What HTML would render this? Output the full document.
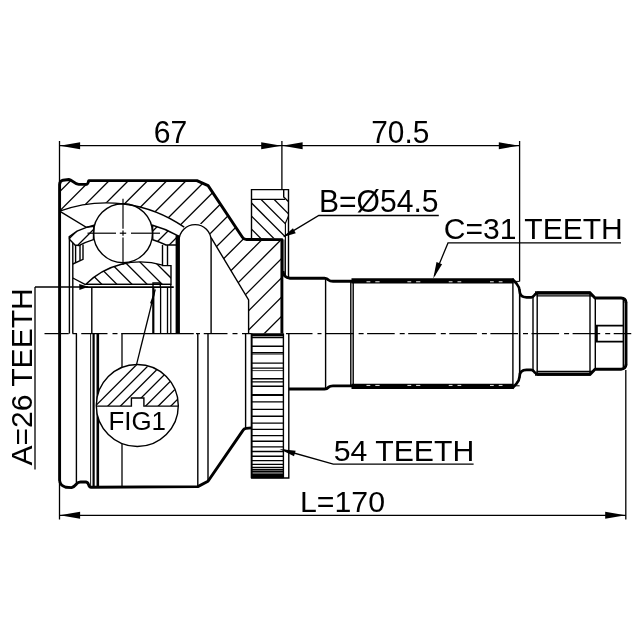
<!DOCTYPE html>
<html><head><meta charset="utf-8"><title>CV joint drawing</title>
<style>
html,body{margin:0;padding:0;background:#fff;}
body{width:640px;height:640px;overflow:hidden;}
svg{display:block;will-change:transform;}
svg .g{fill:none;stroke:#000;stroke-linecap:butt;}
svg text{font-family:"Liberation Sans",Arial,Helvetica,sans-serif;fill:#000;}
</style></head><body>
<svg width="640" height="640" viewBox="0 0 640 640">
<rect x="0" y="0" width="640" height="640" fill="#fff"/>
<g class="g">
<defs><clipPath id="cH"><path d="M59.6,211.14 L59.6,184.5 Q59.8,181 63,180.2 L69,179.5 C72,179.6 74.5,184.2 78.75,184.4 L86.6,184.2 Q88,184 88.6,181 L89,180.6 L196.9,180.6 L208.1,185.6 L242.4,237.2 Q243.8,239.4 246.5,239.55 L281.9,239.6 L281.9,333.6 L248.6,333.6 L248.6,300 L211.1,237.6 L211.1,240.6 A16.0,16.0 0 0 0 184.2,227.2 A136.66,136.66 0 0 0 59.6,211.14 Z"/></clipPath><clipPath id="cI"><path d="M85.6,284.4 A77.8,77.8 0 0 1 162.5,265.15 L162.5,265.6 L171.0,265.6 L171.0,284.4 Z"/></clipPath><clipPath id="cC"><path d="M69.4,236.6 L77,231.15 A112.3,112.3 0 0 1 93.9,225.14 L93.4,239.65 A98.5,98.5 0 0 0 78.75,245.60 L75,245 L70.6,240.6 L69.4,239 Z M152.6,225.27 A112.3,112.3 0 0 1 177.7,235.52 L177.7,245 L166,245 A98.5,98.5 0 0 0 152.8,239.72 Z"/></clipPath><clipPath id="cR"><path d="M251.5,199.4 L285,199.4 L288.4,201.5 L288.4,216 L285.4,223.2 L285.4,238.5 L251.5,238.5 Z"/></clipPath><clipPath id="cF"><path d="M96.30000000000001,406.1 A41.0,41.0 0 0 1 178.3,406.1 L143.9,406.1 L143.9,398 L131.4,398 L131.4,406.1 Z"/></clipPath></defs>
<g clip-path="url(#cH)">
<line x1="82.05" y1="150.00" x2="-117.95" y2="350.00" stroke-width="1.3" />
<line x1="101.30" y1="150.00" x2="-98.70" y2="350.00" stroke-width="1.3" />
<line x1="120.55" y1="150.00" x2="-79.45" y2="350.00" stroke-width="1.3" />
<line x1="139.80" y1="150.00" x2="-60.20" y2="350.00" stroke-width="1.3" />
<line x1="159.05" y1="150.00" x2="-40.95" y2="350.00" stroke-width="1.3" />
<line x1="178.30" y1="150.00" x2="-21.70" y2="350.00" stroke-width="1.3" />
<line x1="197.55" y1="150.00" x2="-2.45" y2="350.00" stroke-width="1.3" />
<line x1="216.80" y1="150.00" x2="16.80" y2="350.00" stroke-width="1.3" />
<line x1="236.05" y1="150.00" x2="36.05" y2="350.00" stroke-width="1.3" />
<line x1="255.30" y1="150.00" x2="55.30" y2="350.00" stroke-width="1.3" />
<line x1="274.55" y1="150.00" x2="74.55" y2="350.00" stroke-width="1.3" />
<line x1="293.80" y1="150.00" x2="93.80" y2="350.00" stroke-width="1.3" />
<line x1="313.05" y1="150.00" x2="113.05" y2="350.00" stroke-width="1.3" />
<line x1="332.30" y1="150.00" x2="132.30" y2="350.00" stroke-width="1.3" />
<line x1="351.55" y1="150.00" x2="151.55" y2="350.00" stroke-width="1.3" />
<line x1="370.80" y1="150.00" x2="170.80" y2="350.00" stroke-width="1.3" />
<line x1="390.05" y1="150.00" x2="190.05" y2="350.00" stroke-width="1.3" />
<line x1="409.30" y1="150.00" x2="209.30" y2="350.00" stroke-width="1.3" />
<line x1="428.55" y1="150.00" x2="228.55" y2="350.00" stroke-width="1.3" />
<line x1="447.80" y1="150.00" x2="247.80" y2="350.00" stroke-width="1.3" />
<line x1="467.05" y1="150.00" x2="267.05" y2="350.00" stroke-width="1.3" />
<line x1="486.30" y1="150.00" x2="286.30" y2="350.00" stroke-width="1.3" />
</g>
<g clip-path="url(#cC)">
<line x1="92.60" y1="200.00" x2="32.60" y2="260.00" stroke-width="1.3" />
<line x1="107.80" y1="200.00" x2="47.80" y2="260.00" stroke-width="1.3" />
<line x1="123.00" y1="200.00" x2="63.00" y2="260.00" stroke-width="1.3" />
<line x1="138.20" y1="200.00" x2="78.20" y2="260.00" stroke-width="1.3" />
<line x1="153.40" y1="200.00" x2="93.40" y2="260.00" stroke-width="1.3" />
<line x1="168.60" y1="200.00" x2="108.60" y2="260.00" stroke-width="1.3" />
<line x1="183.80" y1="200.00" x2="123.80" y2="260.00" stroke-width="1.3" />
<line x1="199.00" y1="200.00" x2="139.00" y2="260.00" stroke-width="1.3" />
<line x1="214.20" y1="200.00" x2="154.20" y2="260.00" stroke-width="1.3" />
<line x1="229.40" y1="200.00" x2="169.40" y2="260.00" stroke-width="1.3" />
<line x1="244.60" y1="200.00" x2="184.60" y2="260.00" stroke-width="1.3" />
</g>
<g clip-path="url(#cI)">
<line x1="52.40" y1="250.00" x2="102.40" y2="300.00" stroke-width="1.3" />
<line x1="67.50" y1="250.00" x2="117.50" y2="300.00" stroke-width="1.3" />
<line x1="82.60" y1="250.00" x2="132.60" y2="300.00" stroke-width="1.3" />
<line x1="97.70" y1="250.00" x2="147.70" y2="300.00" stroke-width="1.3" />
<line x1="112.80" y1="250.00" x2="162.80" y2="300.00" stroke-width="1.3" />
<line x1="127.90" y1="250.00" x2="177.90" y2="300.00" stroke-width="1.3" />
<line x1="143.00" y1="250.00" x2="193.00" y2="300.00" stroke-width="1.3" />
<line x1="158.10" y1="250.00" x2="208.10" y2="300.00" stroke-width="1.3" />
<line x1="173.20" y1="250.00" x2="223.20" y2="300.00" stroke-width="1.3" />
<line x1="188.30" y1="250.00" x2="238.30" y2="300.00" stroke-width="1.3" />
</g>
<g clip-path="url(#cR)">
<line x1="189.20" y1="180.00" x2="259.20" y2="250.00" stroke-width="1.3" />
<line x1="202.30" y1="180.00" x2="272.30" y2="250.00" stroke-width="1.3" />
<line x1="215.40" y1="180.00" x2="285.40" y2="250.00" stroke-width="1.3" />
<line x1="228.50" y1="180.00" x2="298.50" y2="250.00" stroke-width="1.3" />
<line x1="241.60" y1="180.00" x2="311.60" y2="250.00" stroke-width="1.3" />
<line x1="254.70" y1="180.00" x2="324.70" y2="250.00" stroke-width="1.3" />
<line x1="267.80" y1="180.00" x2="337.80" y2="250.00" stroke-width="1.3" />
<line x1="280.90" y1="180.00" x2="350.90" y2="250.00" stroke-width="1.3" />
<line x1="294.00" y1="180.00" x2="364.00" y2="250.00" stroke-width="1.3" />
</g>
<path d="M59.6,333.6 L59.6,184.5 Q59.8,181 63,180.2 L69,179.5 C72,179.6 74.5,184.2 78.75,184.4 L86.6,184.2 Q88,184 88.6,181 L89,180.6 L196.9,180.6 L208.1,185.6 L242.4,237.2 Q243.8,239.4 246.5,239.55 L281.9,239.6 L281.9,333.6" stroke-width="2.9" stroke-linejoin="round"/>
<path d="M59.6,211.14 A136.66,136.66 0 0 1 184.2,227.2" stroke-width="1.4" />
<path d="M59.6,211.14 L86.3,227.3 L94,226.3" stroke-width="1.4" />
<path d="M179.1,333.6 L179.1,240.6 A16.0,16.0 0 0 1 211.1,240.6 L211.1,333.6" stroke-width="1.4" />
<path d="M211.1,237.6 L248.6,300 L248.6,333.6" stroke-width="1.4" />
<circle cx="123.0" cy="233.2" r="29.5" stroke-width="1.4"/>
<line x1="87.50" y1="233.20" x2="116.00" y2="233.20" stroke-width="1.2" />
<line x1="119.80" y1="233.20" x2="126.20" y2="233.20" stroke-width="1.2" />
<line x1="131.00" y1="233.20" x2="160.00" y2="233.20" stroke-width="1.2" />
<line x1="123.00" y1="198.70" x2="123.00" y2="228.70" stroke-width="1.2" />
<line x1="123.00" y1="230.60" x2="123.00" y2="235.80" stroke-width="1.2" />
<line x1="123.00" y1="237.50" x2="123.00" y2="265.00" stroke-width="1.2" />
<path d="M69.4,236.6 L77,231.15 A112.3,112.3 0 0 1 93.9,225.14 L93.4,239.65 A98.5,98.5 0 0 0 78.75,245.60 L75,245 L70.6,240.6 L69.4,239 Z" stroke-width="1.4" />
<path d="M152.6,225.27 A112.3,112.3 0 0 1 177.7,235.52 L177.7,245 L166,245 A98.5,98.5 0 0 0 152.8,239.72 Z" stroke-width="1.4" />
<line x1="69.40" y1="236.30" x2="69.40" y2="333.60" stroke-width="1.4" />
<line x1="72.80" y1="243.00" x2="72.80" y2="333.60" stroke-width="1.4" />
<path d="M72.8,278 L85,284.4" stroke-width="1.4" />
<path d="M72.8,264 L83,259.4 L83,244.4" stroke-width="1.4" />
<line x1="80.00" y1="245.00" x2="80.00" y2="260.50" stroke-width="1.4" />
<line x1="75.60" y1="245.00" x2="75.60" y2="262.50" stroke-width="1.4" />
<line x1="91.80" y1="287.00" x2="91.80" y2="333.60" stroke-width="1.4" />
<line x1="162.50" y1="245.00" x2="162.50" y2="265.60" stroke-width="1.4" />
<line x1="167.50" y1="245.00" x2="167.50" y2="265.60" stroke-width="1.4" />
<line x1="177.60" y1="235.20" x2="177.60" y2="333.60" stroke-width="4.0" />
<path d="M85.6,284.4 A77.8,77.8 0 0 1 162.5,265.15 L162.5,265.6 L171.0,265.6 L171.0,284.4 Z" stroke-width="1.4" />
<line x1="85.60" y1="284.40" x2="171.00" y2="284.40" stroke-width="1.4" />
<line x1="35.00" y1="287.00" x2="88.00" y2="287.00" stroke-width="1.3" />
<line x1="86.00" y1="287.10" x2="173.75" y2="287.10" stroke-width="1.8" />
<path d="M153,287 L153,283 L160.3,283 L160.3,287" stroke-width="1.4" />
<line x1="153.30" y1="287.00" x2="153.30" y2="333.60" stroke-width="2.2" />
<line x1="160.60" y1="287.00" x2="160.60" y2="333.60" stroke-width="1.3" />
<line x1="167.50" y1="287.00" x2="167.50" y2="333.60" stroke-width="1.3" />
<line x1="170.80" y1="284.40" x2="170.80" y2="333.60" stroke-width="1.3" />
<path d="M251.5,238.5 L251.5,189.6 L288.5,189.6 L288.5,277" stroke-width="1.4" />
<line x1="251.50" y1="199.40" x2="285.00" y2="199.40" stroke-width="1.4" />
<path d="M283.7,189.6 L283.7,197 L288.4,201.5" stroke-width="1.4" />
<path d="M288.5,216 L285.4,223.2 L285.4,275" stroke-width="1.1" />
<line x1="284.00" y1="239.60" x2="284.00" y2="275.00" stroke-width="0.9" />
<path d="M283,271 Q283.4,277.8 290,278.2 L324.5,278.2 Q327,278.3 328.5,280 Q330,281.3 333,281.3 L352.5,281.3" stroke-width="2.9" stroke-linejoin="round"/>
<path d="M288.9,389.00 L324.5,389.00 Q327,388.90 328.5,387.20 Q330,385.90 333,385.90 L352.5,385.90" stroke-width="2.9" />
<line x1="351.50" y1="280.90" x2="513.50" y2="280.90" stroke-width="5.3" />
<line x1="366.50" y1="281.75" x2="370.30" y2="281.75" stroke-width="1.1" stroke="#d8d8d8"/>
<line x1="375.30" y1="281.75" x2="379.60" y2="281.75" stroke-width="1.1" stroke="#d8d8d8"/>
<line x1="407.40" y1="281.75" x2="411.20" y2="281.75" stroke-width="1.1" stroke="#d8d8d8"/>
<line x1="416.10" y1="281.75" x2="420.30" y2="281.75" stroke-width="1.1" stroke="#d8d8d8"/>
<line x1="448.75" y1="281.75" x2="452.50" y2="281.75" stroke-width="1.1" stroke="#d8d8d8"/>
<line x1="457.50" y1="281.75" x2="461.25" y2="281.75" stroke-width="1.1" stroke="#d8d8d8"/>
<line x1="490.00" y1="281.75" x2="493.75" y2="281.75" stroke-width="1.1" stroke="#d8d8d8"/>
<line x1="498.75" y1="281.75" x2="502.50" y2="281.75" stroke-width="1.1" stroke="#d8d8d8"/>
<path d="M512.2,278.80 L516.5,283.50 Q519.4,287.00 519.6,291.00 Q519.8,297.30 526.5,297.30 L531.3,297.30 Q533,297.30 535,294.50 Q536.5,292.80 538.5,292.80" stroke-width="2.7" />
<path d="M535,292.80 L590,292.80 L595,298.00 L621,298.00 Q625.6,298.20 626,302.50" stroke-width="2.9" stroke-linejoin="round"/>
<path d="M537.3,293.00 L590.6,293.00" stroke-width="3.2" />
<line x1="536.60" y1="295.90" x2="592.60" y2="295.90" stroke-width="1.2" />
<line x1="351.50" y1="386.30" x2="513.50" y2="386.30" stroke-width="5.3" />
<line x1="366.50" y1="385.45" x2="370.30" y2="385.45" stroke-width="1.1" stroke="#d8d8d8"/>
<line x1="375.30" y1="385.45" x2="379.60" y2="385.45" stroke-width="1.1" stroke="#d8d8d8"/>
<line x1="407.40" y1="385.45" x2="411.20" y2="385.45" stroke-width="1.1" stroke="#d8d8d8"/>
<line x1="416.10" y1="385.45" x2="420.30" y2="385.45" stroke-width="1.1" stroke="#d8d8d8"/>
<line x1="448.75" y1="385.45" x2="452.50" y2="385.45" stroke-width="1.1" stroke="#d8d8d8"/>
<line x1="457.50" y1="385.45" x2="461.25" y2="385.45" stroke-width="1.1" stroke="#d8d8d8"/>
<line x1="490.00" y1="385.45" x2="493.75" y2="385.45" stroke-width="1.1" stroke="#d8d8d8"/>
<line x1="498.75" y1="385.45" x2="502.50" y2="385.45" stroke-width="1.1" stroke="#d8d8d8"/>
<path d="M512.2,388.40 L516.5,383.70 Q519.4,380.20 519.6,376.20 Q519.8,369.90 526.5,369.90 L531.3,369.90 Q533,369.90 535,372.70 Q536.5,374.40 538.5,374.40" stroke-width="2.7" />
<path d="M535,374.40 L590,374.40 L595,369.20 L621,369.20 Q625.6,369.00 626,364.70" stroke-width="2.9" stroke-linejoin="round"/>
<path d="M537.3,374.20 L590.6,374.20" stroke-width="3.2" />
<line x1="536.60" y1="371.30" x2="592.60" y2="371.30" stroke-width="1.2" />
<line x1="626.00" y1="302.00" x2="626.00" y2="365.20" stroke-width="2.9" />
<line x1="325.60" y1="278.30" x2="325.60" y2="388.90" stroke-width="1.4" />
<line x1="350.80" y1="281.30" x2="350.80" y2="385.90" stroke-width="1.4" />
<line x1="353.20" y1="281.30" x2="353.20" y2="385.90" stroke-width="1.4" />
<line x1="512.90" y1="281.00" x2="512.90" y2="386.20" stroke-width="1.4" />
<line x1="519.70" y1="289.00" x2="519.70" y2="378.20" stroke-width="1.6" />
<line x1="533.00" y1="295.50" x2="533.00" y2="371.70" stroke-width="1.4" />
<line x1="537.20" y1="293.00" x2="537.20" y2="374.20" stroke-width="1.4" />
<line x1="590.00" y1="293.00" x2="590.00" y2="374.20" stroke-width="1.4" />
<line x1="595.30" y1="298.00" x2="595.30" y2="369.20" stroke-width="1.4" />
<line x1="623.30" y1="298.50" x2="623.30" y2="368.70" stroke-width="1.4" />
<path d="M623.3,325.6 L596.9,325.6 L596.9,341.6 L623.3,341.6" stroke-width="1.8" />
<path d="M59.6,333.6 L59.6,480.5 Q60,485.5 66,487.3 L71.5,487.6 Q74,487 76.5,484 Q78,482 80.5,482 L86,482 Q88,482.3 88.7,485 Q89.3,487.3 91,487.3 L197.8,486.6 L208,481.3 L242.8,430.6 Q244,428.6 246,428.4 L251.5,427.9" stroke-width="2.9" stroke-linejoin="round"/>
<line x1="76.40" y1="333.60" x2="76.40" y2="483.00" stroke-width="1.4" />
<line x1="90.60" y1="333.60" x2="90.60" y2="486.00" stroke-width="0.9" />
<line x1="93.60" y1="333.60" x2="93.60" y2="487.00" stroke-width="2.2" />
<line x1="97.80" y1="333.60" x2="97.80" y2="487.00" stroke-width="2.6" />
<line x1="122.00" y1="333.60" x2="122.00" y2="487.00" stroke-width="1.3" />
<line x1="197.80" y1="333.60" x2="197.80" y2="486.50" stroke-width="1.4" />
<line x1="208.00" y1="333.60" x2="208.00" y2="481.30" stroke-width="1.4" />
<line x1="245.60" y1="333.60" x2="245.60" y2="428.50" stroke-width="1.4" />
<path d="M251.6,333.6 L251.6,478.0 L288.8,478.0 L288.8,333.6" stroke-width="1.4" />
<line x1="251.60" y1="333.60" x2="251.60" y2="478.00" stroke-width="1.7" />
<line x1="283.40" y1="333.60" x2="283.40" y2="478.00" stroke-width="1.4" />
<line x1="251.60" y1="335.60" x2="283.50" y2="335.60" stroke-width="1.3" />
<line x1="251.60" y1="337.50" x2="283.50" y2="337.50" stroke-width="1.3" />
<line x1="251.60" y1="346.25" x2="283.50" y2="346.25" stroke-width="1.3" />
<line x1="251.60" y1="352.60" x2="283.50" y2="352.60" stroke-width="1.3" />
<line x1="251.60" y1="354.00" x2="283.50" y2="354.00" stroke-width="1.2" />
<line x1="251.60" y1="363.10" x2="283.50" y2="363.10" stroke-width="1.3" />
<line x1="251.60" y1="368.10" x2="283.50" y2="368.10" stroke-width="1.3" />
<line x1="251.60" y1="370.60" x2="283.50" y2="370.60" stroke-width="0.8" />
<line x1="251.60" y1="378.75" x2="283.50" y2="378.75" stroke-width="1.3" />
<line x1="251.60" y1="381.90" x2="283.50" y2="381.90" stroke-width="1.3" />
<line x1="251.60" y1="386.25" x2="283.50" y2="386.25" stroke-width="1.3" />
<line x1="251.60" y1="395.00" x2="283.50" y2="395.00" stroke-width="2.2" />
<line x1="251.60" y1="401.90" x2="283.50" y2="401.90" stroke-width="1.3" />
<line x1="251.60" y1="409.40" x2="283.50" y2="409.40" stroke-width="1.3" />
<line x1="251.60" y1="416.25" x2="283.50" y2="416.25" stroke-width="1.3" />
<line x1="251.60" y1="423.10" x2="283.50" y2="423.10" stroke-width="1.3" />
<line x1="251.60" y1="429.40" x2="283.50" y2="429.40" stroke-width="1.3" />
<line x1="251.60" y1="435.60" x2="283.50" y2="435.60" stroke-width="1.3" />
<line x1="251.60" y1="441.25" x2="283.50" y2="441.25" stroke-width="1.3" />
<line x1="251.60" y1="446.90" x2="283.50" y2="446.90" stroke-width="1.3" />
<line x1="251.60" y1="451.50" x2="283.50" y2="451.50" stroke-width="1.3" />
<line x1="251.60" y1="456.25" x2="283.50" y2="456.25" stroke-width="1.3" />
<line x1="251.60" y1="460.60" x2="283.50" y2="460.60" stroke-width="1.3" />
<line x1="251.60" y1="464.40" x2="283.50" y2="464.40" stroke-width="1.3" />
<line x1="251.60" y1="467.50" x2="283.50" y2="467.50" stroke-width="1.3" />
<line x1="251.60" y1="469.75" x2="283.50" y2="469.75" stroke-width="1.3" />
<line x1="251.60" y1="471.50" x2="283.50" y2="471.50" stroke-width="1.3" />
<line x1="251.60" y1="473.00" x2="283.50" y2="473.00" stroke-width="1.2" />
<rect x="251.6" y="473.7" width="32" height="4.5" fill="#000" stroke="none"/>
<circle cx="137.3" cy="405.5" r="41.0" stroke-width="1.4" fill="#fff"/>
<g clip-path="url(#cF)">
<line x1="151.30" y1="350.00" x2="81.30" y2="420.00" stroke-width="1.3" />
<line x1="163.90" y1="350.00" x2="93.90" y2="420.00" stroke-width="1.3" />
<line x1="176.50" y1="350.00" x2="106.50" y2="420.00" stroke-width="1.3" />
<line x1="189.10" y1="350.00" x2="119.10" y2="420.00" stroke-width="1.3" />
<line x1="201.70" y1="350.00" x2="131.70" y2="420.00" stroke-width="1.3" />
<line x1="214.30" y1="350.00" x2="144.30" y2="420.00" stroke-width="1.3" />
<line x1="226.90" y1="350.00" x2="156.90" y2="420.00" stroke-width="1.3" />
<line x1="239.50" y1="350.00" x2="169.50" y2="420.00" stroke-width="1.3" />
<line x1="252.10" y1="350.00" x2="182.10" y2="420.00" stroke-width="1.3" />
<line x1="264.70" y1="350.00" x2="194.70" y2="420.00" stroke-width="1.3" />
</g>
<path d="M96.30000000000001,406.1 L131.4,406.1 L131.4,398 L143.9,398 L143.9,406.1 L178.3,406.1" stroke-width="1.4" />
<line x1="44.50" y1="333.60" x2="68.75" y2="333.60" stroke-width="1.25" />
<line x1="72.50" y1="333.60" x2="77.00" y2="333.60" stroke-width="1.25" />
<line x1="81.25" y1="333.60" x2="107.50" y2="333.60" stroke-width="1.25" />
<line x1="112.50" y1="333.60" x2="117.50" y2="333.60" stroke-width="1.25" />
<line x1="121.25" y1="333.60" x2="193.75" y2="333.60" stroke-width="1.25" />
<line x1="196.00" y1="333.60" x2="200.00" y2="333.60" stroke-width="1.25" />
<line x1="203.75" y1="333.60" x2="227.50" y2="333.60" stroke-width="1.25" />
<line x1="232.50" y1="333.60" x2="237.50" y2="333.60" stroke-width="1.25" />
<line x1="242.00" y1="333.60" x2="251.60" y2="333.60" stroke-width="1.25" />
<line x1="286.00" y1="333.60" x2="312.50" y2="333.60" stroke-width="1.25" />
<line x1="317.50" y1="333.60" x2="321.50" y2="333.60" stroke-width="1.25" />
<line x1="326.00" y1="333.60" x2="353.60" y2="333.60" stroke-width="1.25" />
<line x1="358.60" y1="333.60" x2="363.60" y2="333.60" stroke-width="1.25" />
<line x1="367.10" y1="333.60" x2="394.70" y2="333.60" stroke-width="1.25" />
<line x1="399.70" y1="333.60" x2="404.70" y2="333.60" stroke-width="1.25" />
<line x1="408.20" y1="333.60" x2="435.80" y2="333.60" stroke-width="1.25" />
<line x1="440.80" y1="333.60" x2="445.80" y2="333.60" stroke-width="1.25" />
<line x1="449.30" y1="333.60" x2="476.90" y2="333.60" stroke-width="1.25" />
<line x1="481.90" y1="333.60" x2="486.90" y2="333.60" stroke-width="1.25" />
<line x1="490.40" y1="333.60" x2="518.00" y2="333.60" stroke-width="1.25" />
<line x1="523.00" y1="333.60" x2="528.00" y2="333.60" stroke-width="1.25" />
<line x1="531.50" y1="333.60" x2="559.10" y2="333.60" stroke-width="1.25" />
<line x1="564.10" y1="333.60" x2="569.10" y2="333.60" stroke-width="1.25" />
<line x1="572.60" y1="333.60" x2="600.20" y2="333.60" stroke-width="1.25" />
<line x1="605.20" y1="333.60" x2="610.20" y2="333.60" stroke-width="1.25" />
<line x1="613.70" y1="333.60" x2="631.25" y2="333.60" stroke-width="1.25" />
<line x1="251.60" y1="334.20" x2="283.60" y2="334.20" stroke-width="2.0" />
<line x1="59.50" y1="141.00" x2="59.50" y2="330.00" stroke-width="1.3" />
<line x1="281.90" y1="141.00" x2="281.90" y2="189.70" stroke-width="1.3" />
<line x1="519.60" y1="141.00" x2="519.60" y2="281.40" stroke-width="1.3" />
<line x1="514.50" y1="281.40" x2="519.60" y2="281.40" stroke-width="1.0" />
<line x1="514.50" y1="385.80" x2="519.60" y2="385.80" stroke-width="1.0" />
<line x1="59.50" y1="145.70" x2="281.90" y2="145.70" stroke-width="1.3" />
<line x1="281.90" y1="145.70" x2="519.60" y2="145.70" stroke-width="1.3" />
<polygon points="59.80,145.70 80.10,142.25 80.10,149.15" fill="#000" stroke="none"/>
<polygon points="281.50,145.70 261.20,149.15 261.20,142.25" fill="#000" stroke="none"/>
<polygon points="282.30,145.70 302.60,142.25 302.60,149.15" fill="#000" stroke="none"/>
<polygon points="519.10,145.70 498.80,149.15 498.80,142.25" fill="#000" stroke="none"/>
<line x1="59.50" y1="482.00" x2="59.50" y2="519.50" stroke-width="1.3" />
<line x1="625.80" y1="370.00" x2="625.80" y2="519.50" stroke-width="1.3" />
<line x1="59.50" y1="515.30" x2="625.80" y2="515.30" stroke-width="1.3" />
<polygon points="59.80,515.30 80.10,511.85 80.10,518.75" fill="#000" stroke="none"/>
<polygon points="625.50,515.30 605.20,518.75 605.20,511.85" fill="#000" stroke="none"/>
<line x1="35.00" y1="286.90" x2="35.00" y2="469.50" stroke-width="1.3" />
<polygon points="88.60,286.70 79.39,289.98 79.21,283.98" fill="#000" stroke="none"/>
<path d="M438.8,215.5 L318.8,215.5 L284,236.4" stroke-width="1.3" />
<polygon points="283.00,237.00 292.96,228.15 295.77,233.23" fill="#000" stroke="none"/>
<path d="M621,242.9 L448,242.9 L434.3,276" stroke-width="1.3" />
<polygon points="433.30,278.40 436.52,261.94 442.10,264.13" fill="#000" stroke="none"/>
<path d="M473.6,464.1 L333.3,464.1 L283.3,450" stroke-width="1.3" />
<polygon points="279.50,448.90 295.66,450.73 293.99,456.29" fill="#000" stroke="none"/>
<path d="M136.5,364.7 L155.2,289.5" stroke-width="1.3" />
<polygon points="155.40,288.20 152.93,304.08 150.02,303.34" fill="#000" stroke="none"/>
</g>
<g>
<text x="153.8" y="143.2" font-size="31.5" textLength="33.5" lengthAdjust="spacingAndGlyphs" >67</text>
<text x="371.3" y="143.0" font-size="31.5" textLength="58" lengthAdjust="spacingAndGlyphs" >70.5</text>
<text x="319" y="212.4" font-size="31.5" textLength="119.5" lengthAdjust="spacingAndGlyphs" >B=Ø54.5</text>
<text x="443.8" y="238.7" font-size="30.4" textLength="179" lengthAdjust="spacingAndGlyphs" >C=31 TEETH</text>
<text x="333.8" y="460.9" font-size="30.0" textLength="140.5" lengthAdjust="spacingAndGlyphs" >54 TEETH</text>
<text x="300" y="511.8" font-size="30.4" textLength="85" lengthAdjust="spacingAndGlyphs" >L=170</text>
<text x="108.4" y="430.3" font-size="26.2" textLength="57.6" lengthAdjust="spacingAndGlyphs" >FIG1</text>
<text transform="translate(32.2,465.5) rotate(-90)" x="0" y="0" font-size="30.3" textLength="177.2" lengthAdjust="spacingAndGlyphs">A=26 TEETH</text>
</g>
</svg>
</body></html>
